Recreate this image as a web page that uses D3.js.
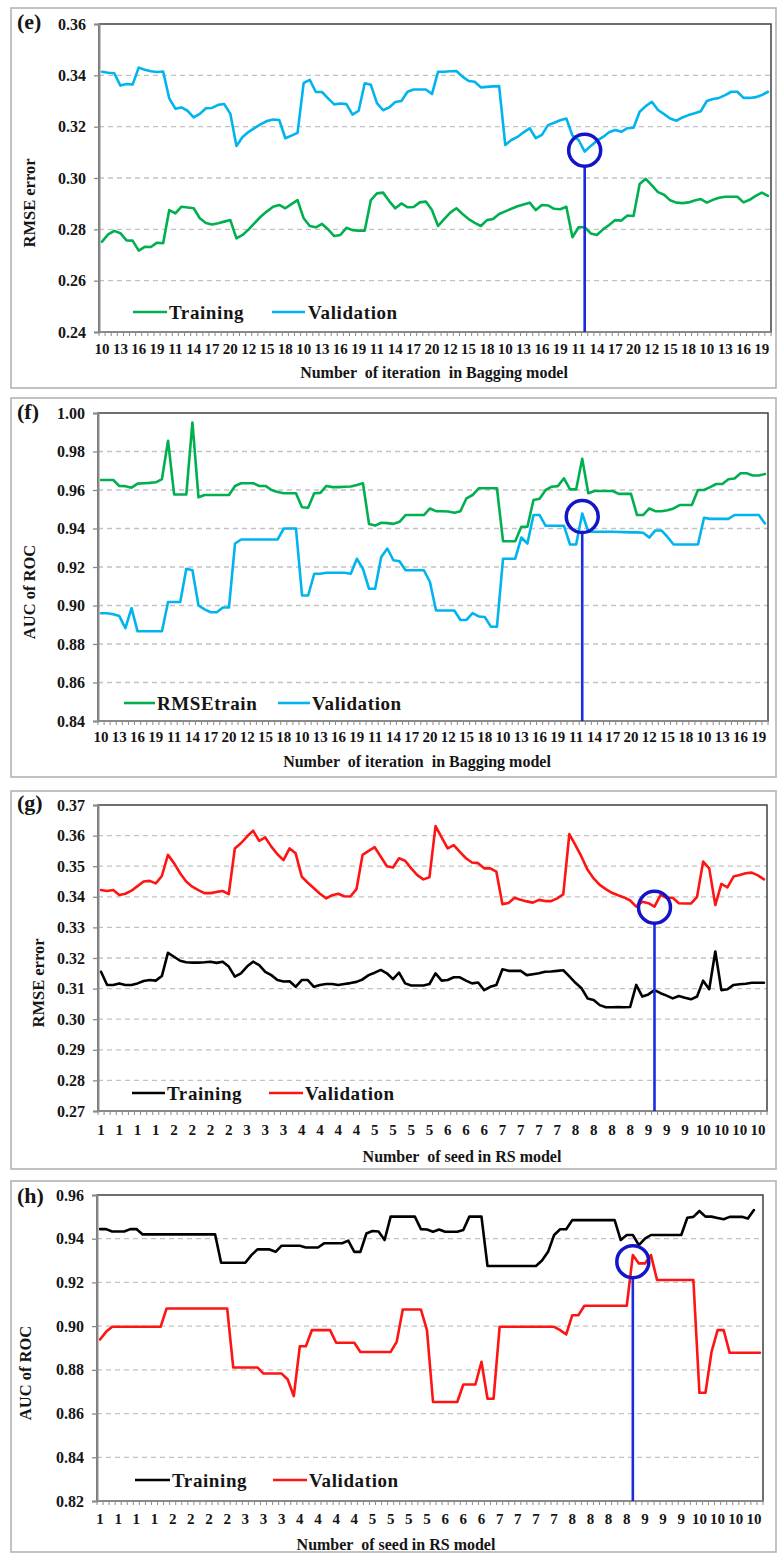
<!DOCTYPE html>
<html><head><meta charset="utf-8">
<script src="https://cdn.jsdelivr.net/npm/d3@7"></script>
<style>
html,body{margin:0;padding:0;background:#fff;}
svg{display:block;}
</style></head><body>
<svg id="chart" width="779" height="1553"></svg>
<script>
// ---------------- DATA ----------------
const nCategories = 110;
const categories = d3.range(nCategories);
const tickEvery = 3;

const bagTickLabels = ["10","13","16","19","11","14","17","20","12","15","18",
  "10","13","16","19","11","14","17","20","12","15","18",
  "10","13","16","19","11","14","17","20","12","15","18",
  "10","13","16","19"];
const rsTickLabels = ["1","1","1","1","2","2","2","2","3","3","3","4","4","4","4",
  "5","5","5","5","6","6","6","7","7","7","7","8","8","8","8","9","9","9",
  "10","10","10","10"];

const eTraining = [0.2752,0.2780,0.2794,0.2785,0.2757,0.2756,0.2717,0.2732,0.2731,0.2748,0.2746,
 0.2875,0.2862,0.2888,0.2885,0.2882,0.2843,0.2825,0.2819,0.2824,0.2830,0.2836,
 0.2765,0.2778,0.2800,0.2825,0.2850,0.2870,0.2888,0.2895,0.2882,0.2898,0.2914,
 0.2843,0.2813,0.2808,0.2821,0.2800,0.2774,0.2778,0.2806,0.2797,0.2795,0.2795,
 0.2914,0.2940,0.2943,0.2910,0.2882,0.2901,0.2886,0.2887,0.2905,0.2908,0.2875,
 0.2813,0.2840,0.2865,0.2882,0.2860,0.2840,0.2825,0.2813,0.2836,0.2840,0.2860,
 0.2870,0.2880,0.2890,0.2897,0.2904,0.2875,0.2895,0.2893,0.2880,0.2878,0.2888,
 0.2769,0.2808,0.2808,0.2784,0.2778,0.2800,0.2817,0.2836,0.2834,0.2854,0.2852,
 0.2977,0.2997,0.2971,0.2945,0.2935,0.2913,0.2904,0.2902,0.2905,0.2912,0.2918,
 0.2904,0.2915,0.2923,0.2927,0.2927,0.2927,0.2905,0.2915,0.2930,0.2943,0.2930];
const eValidation = [0.3414,0.3410,0.3408,0.3360,0.3366,0.3364,0.3430,0.3422,0.3416,0.3413,0.3415,
 0.3310,0.3270,0.3275,0.3262,0.3236,0.3250,0.3272,0.3273,0.3285,0.3288,0.3250,
 0.3125,0.3160,0.3180,0.3195,0.3210,0.3222,0.3228,0.3226,0.3155,0.3165,0.3176,
 0.3370,0.3382,0.3335,0.3335,0.3310,0.3287,0.3290,0.3288,0.3247,0.3262,0.3369,
 0.3363,0.3292,0.3264,0.3275,0.3296,0.3300,0.3336,0.3345,0.3345,0.3345,0.3327,
 0.3414,0.3414,0.3416,0.3417,0.3395,0.3378,0.3375,0.3353,0.3355,0.3357,0.3358,
 0.3129,0.3148,0.3160,0.3178,0.3194,0.3155,0.3168,0.3206,0.3215,0.3225,0.3232,
 0.3165,0.3148,0.3103,0.3125,0.3145,0.3160,0.3178,0.3187,0.3180,0.3194,0.3196,
 0.3258,0.3280,0.3297,0.3265,0.3249,0.3232,0.3223,0.3236,0.3245,0.3252,0.3260,
 0.3300,0.3308,0.3312,0.3323,0.3336,0.3336,0.3312,0.3312,0.3315,0.3323,0.3336];

const fTrain = [0.9652,0.9652,0.9652,0.9621,0.9620,0.9612,0.9633,0.9635,0.9637,0.9640,0.9657,
 0.9856,0.9577,0.9577,0.9577,0.9951,0.9562,0.9574,0.9574,0.9574,0.9574,0.9574,
 0.9621,0.9635,0.9635,0.9635,0.9621,0.9621,0.9600,0.9590,0.9583,0.9583,0.9583,
 0.9510,0.9508,0.9583,0.9585,0.9621,0.9615,0.9615,0.9617,0.9618,0.9626,0.9635,
 0.9423,0.9415,0.9430,0.9428,0.9424,0.9435,0.9470,0.9470,0.9470,0.9470,0.9504,
 0.9490,0.9490,0.9488,0.9482,0.9490,0.9557,0.9574,0.9609,0.9609,0.9609,0.9609,
 0.9334,0.9334,0.9334,0.9409,0.9409,0.9548,0.9555,0.9600,0.9617,0.9620,0.9661,
 0.9603,0.9603,0.9762,0.9583,0.9595,0.9595,0.9595,0.9595,0.9580,0.9580,0.9580,
 0.9470,0.9470,0.9504,0.9490,0.9490,0.9495,0.9504,0.9522,0.9522,0.9522,0.9600,
 0.9600,0.9615,0.9631,0.9631,0.9656,0.9660,0.9687,0.9687,0.9675,0.9675,0.9683];
const fValidation = [0.8960,0.8960,0.8955,0.8945,0.8882,0.8986,0.8866,0.8866,0.8866,0.8866,0.8866,
 0.9018,0.9018,0.9018,0.9191,0.9183,0.9000,0.8980,0.8965,0.8965,0.8990,0.8990,
 0.9322,0.9343,0.9343,0.9343,0.9343,0.9343,0.9343,0.9343,0.9400,0.9400,0.9400,
 0.9052,0.9052,0.9165,0.9165,0.9170,0.9170,0.9170,0.9170,0.9165,0.9243,0.9190,
 0.9087,0.9087,0.9252,0.9296,0.9235,0.9230,0.9183,0.9183,0.9183,0.9183,0.9122,
 0.8974,0.8974,0.8974,0.8974,0.8925,0.8925,0.8960,0.8943,0.8940,0.8890,0.8890,
 0.9243,0.9243,0.9243,0.9353,0.9322,0.9470,0.9470,0.9414,0.9414,0.9414,0.9414,
 0.9317,0.9317,0.9478,0.9383,0.9383,0.9383,0.9383,0.9383,0.9382,0.9381,0.9380,
 0.9380,0.9378,0.9353,0.9390,0.9390,0.9356,0.9317,0.9317,0.9317,0.9317,0.9317,
 0.9456,0.9450,0.9450,0.9450,0.9450,0.9470,0.9470,0.9470,0.9470,0.9470,0.9426];

const gTraining = [0.3155,0.3112,0.3112,0.3117,0.3112,0.3112,0.3117,0.3125,0.3128,0.3126,0.3141,
 0.3217,0.3204,0.3191,0.3186,0.3185,0.3185,0.3186,0.3188,0.3184,0.3188,0.3172,
 0.3139,0.3150,0.3172,0.3188,0.3177,0.3155,0.3144,0.3128,0.3123,0.3124,0.3106,
 0.3128,0.3128,0.3106,0.3112,0.3115,0.3115,0.3112,0.3115,0.3118,0.3122,0.3130,
 0.3144,0.3152,0.3161,0.3150,0.3131,0.3152,0.3117,0.3110,0.3110,0.3110,0.3115,
 0.3150,0.3126,0.3128,0.3137,0.3137,0.3126,0.3117,0.3120,0.3095,0.3106,0.3112,
 0.3163,0.3158,0.3158,0.3158,0.3144,0.3147,0.3150,0.3155,0.3156,0.3158,0.3160,
 0.3140,0.3119,0.3101,0.3068,0.3063,0.3046,0.3039,0.3039,0.3040,0.3039,0.3040,
 0.3112,0.3074,0.3081,0.3095,0.3085,0.3077,0.3068,0.3076,0.3070,0.3065,0.3074,
 0.3126,0.3098,0.3221,0.3095,0.3098,0.3112,0.3114,0.3116,0.3119,0.3119,0.3119];
const gValidation = [0.3422,0.3419,0.3422,0.3406,0.3410,0.3420,0.3435,0.3450,0.3452,0.3444,0.3468,
 0.3537,0.3510,0.3477,0.3450,0.3433,0.3422,0.3412,0.3412,0.3416,0.3419,0.3409,
 0.3558,0.3575,0.3597,0.3616,0.3583,0.3594,0.3564,0.3539,0.3520,0.3558,0.3542,
 0.3466,0.3446,0.3428,0.3410,0.3395,0.3405,0.3410,0.3402,0.3401,0.3425,0.3537,
 0.3550,0.3562,0.3531,0.3500,0.3496,0.3526,0.3518,0.3493,0.3471,0.3457,0.3464,
 0.3631,0.3594,0.3558,0.3569,0.3547,0.3526,0.3512,0.3510,0.3493,0.3493,0.3482,
 0.3376,0.3380,0.3397,0.3390,0.3385,0.3381,0.3390,0.3386,0.3386,0.3395,0.3408,
 0.3605,0.3569,0.3531,0.3488,0.3460,0.3439,0.3425,0.3413,0.3405,0.3398,0.3388,
 0.3368,0.3384,0.3379,0.3368,0.3406,0.3397,0.3397,0.3379,0.3378,0.3378,0.3400,
 0.3515,0.3493,0.3373,0.3442,0.3431,0.3466,0.3471,0.3477,0.3479,0.3470,0.3457];

const hTraining = [0.9444,0.9444,0.9433,0.9433,0.9433,0.9444,0.9444,0.9420,0.9420,0.9420,0.9420,
 0.9420,0.9420,0.9420,0.9420,0.9420,0.9420,0.9420,0.9420,0.9420,0.9290,0.9290,
 0.9290,0.9290,0.9290,0.9325,0.9351,0.9351,0.9351,0.9340,0.9368,0.9368,0.9368,
 0.9368,0.9360,0.9360,0.9360,0.9379,0.9379,0.9379,0.9379,0.9391,0.9340,0.9340,
 0.9424,0.9435,0.9433,0.9394,0.9501,0.9501,0.9501,0.9501,0.9501,0.9444,0.9442,
 0.9432,0.9442,0.9432,0.9432,0.9432,0.9440,0.9501,0.9501,0.9501,0.9275,0.9275,
 0.9275,0.9275,0.9275,0.9275,0.9275,0.9275,0.9275,0.9300,0.9340,0.9417,0.9443,
 0.9443,0.9485,0.9485,0.9485,0.9485,0.9485,0.9485,0.9485,0.9485,0.9394,0.9417,
 0.9417,0.9371,0.9400,0.9417,0.9417,0.9417,0.9417,0.9417,0.9417,0.9496,0.9500,
 0.9527,0.9501,0.9501,0.9495,0.9489,0.9500,0.9500,0.9500,0.9492,0.9531];
const hValidation = [0.8939,0.8974,0.8997,0.8997,0.8997,0.8997,0.8997,0.8997,0.8997,0.8997,0.8997,
 0.9081,0.9081,0.9081,0.9081,0.9081,0.9081,0.9081,0.9081,0.9081,0.9081,0.9081,
 0.8811,0.8811,0.8811,0.8811,0.8811,0.8783,0.8783,0.8783,0.8783,0.8756,0.8680,
 0.8908,0.8908,0.8982,0.8982,0.8982,0.8982,0.8924,0.8924,0.8924,0.8924,0.8882,
 0.8882,0.8882,0.8882,0.8882,0.8882,0.8928,0.9076,0.9076,0.9076,0.9076,0.8982,
 0.8653,0.8653,0.8653,0.8653,0.8653,0.8733,0.8733,0.8733,0.8837,0.8668,0.8668,
 0.8997,0.8997,0.8997,0.8997,0.8997,0.8997,0.8997,0.8997,0.8997,0.8997,0.8982,
 0.8962,0.9050,0.9050,0.9093,0.9093,0.9093,0.9093,0.9093,0.9093,0.9093,0.9093,
 0.9325,0.9287,0.9287,0.9325,0.9211,0.9211,0.9211,0.9211,0.9211,0.9211,0.9211,
 0.8695,0.8695,0.8882,0.8982,0.8982,0.8878,0.8878,0.8878,0.8878,0.8878,0.8878];

// optimum markers: [category index, value]
const eMarker = [79, 0.3108];
const fMarker = [79, 0.9462];
const gMarker = [91, 0.3366];
const hMarker = [88, 0.9295];

// ---------------- STYLE / LAYOUT ----------------
const FONT = "'Liberation Serif', 'Times New Roman', Times, serif";
const GREEN = "#00b050", CYAN = "#00b4ef", RED = "#ff1414", BLACK = "#000000";

const panels = [
  { tag:"(e)", yTitle:"RMSE error", yDomain:[0.24,0.36], yStep:0.02,
    xTitle:"Number  of iteration  in Bagging model", tickLabels:bagTickLabels,
    series:[{name:"Training", values:eTraining, color:GREEN},{name:"Validation", values:eValidation, color:CYAN}],
    marker:eMarker,
    L:{frame:[11,8,776,388], left:99, right:771, top:24, bottom:332, xLabY:354, titleX:434, titleY:378,
       yTitleX:29, tagY:29, legY:312, leg:[[133,167,169],[272,305,308]]} },
  { tag:"(f)", yTitle:"AUC of ROC", yDomain:[0.84,1.00], yStep:0.02,
    xTitle:"Number  of iteration  in Bagging model", tickLabels:bagTickLabels,
    series:[{name:"RMSEtrain", values:fTrain, color:GREEN},{name:"Validation", values:fValidation, color:CYAN}],
    marker:fMarker,
    L:{frame:[11,398,776,777], left:98, right:768, top:413, bottom:721, xLabY:742, titleX:417, titleY:767,
       yTitleX:29, tagY:419, legY:703, leg:[[124,155,157],[278,310,312]]} },
  { tag:"(g)", yTitle:"RMSE error", yDomain:[0.27,0.37], yStep:0.01,
    xTitle:"Number  of seed in RS model", tickLabels:rsTickLabels,
    series:[{name:"Training", values:gTraining, color:BLACK},{name:"Validation", values:gValidation, color:RED}],
    marker:gMarker,
    L:{frame:[11,791,776,1169], left:98, right:767, top:805, bottom:1111, xLabY:1135, titleX:462, titleY:1162,
       yTitleX:38, tagY:810, legY:1093, leg:[[132,165,167],[269,303,305]]} },
  { tag:"(h)", yTitle:"AUC of ROC", yDomain:[0.82,0.96], yStep:0.02,
    xTitle:"Number  of seed in RS model", tickLabels:rsTickLabels,
    series:[{name:"Training", values:hTraining, color:BLACK},{name:"Validation", values:hValidation, color:RED}],
    marker:hMarker,
    L:{frame:[11,1181,776,1552], left:97, right:763, top:1195, bottom:1501, xLabY:1524, titleX:396, titleY:1550,
       yTitleX:25, tagY:1203, legY:1480, leg:[[135,170,172],[273,307,309]]} }
];

// ---------------- DRAW ----------------
const svg = d3.select("#chart").attr("font-family", FONT).style("font-family", FONT);
svg.append("rect").attr("width",779).attr("height",1553).attr("fill","#fff");
const fmt2 = d3.format(".2f");
const txt = sel => sel.style("font-family", FONT).style("font-weight","bold").attr("fill","#151515");

panels.forEach(p => {
  const L = p.L;
  const g = svg.append("g");
  g.append("rect")
    .attr("x", L.frame[0]).attr("y", L.frame[1])
    .attr("width", L.frame[2]-L.frame[0]).attr("height", L.frame[3]-L.frame[1])
    .attr("fill","#fff").attr("stroke","#b3b3b3").attr("stroke-width",1.6);

  const x = d3.scaleBand().domain(categories).range([L.left, L.right]).padding(0);
  const bw = x.bandwidth();
  const cx = i => x(i) + bw/2;
  const bx = i => i < nCategories ? x(i) : L.right;
  const y = d3.scaleLinear().domain(p.yDomain).range([L.bottom, L.top]);
  const nT = Math.round((p.yDomain[1]-p.yDomain[0])/p.yStep);
  const yTicks = d3.range(nT+1).map(k => +(p.yDomain[0] + k*p.yStep).toFixed(4));

  // gridlines
  g.append("g").selectAll("line").data(yTicks.slice(1,-1)).join("line")
    .attr("x1", L.left).attr("x2", L.right)
    .attr("y1", d => y(d)).attr("y2", d => y(d))
    .attr("stroke","#c2c2c2").attr("stroke-width",1.3).attr("stroke-dasharray","5,4");

  // series
  const line = d3.line().x((d,i) => cx(i)).y(d => y(d));
  p.series.forEach(s => {
    g.append("path").datum(s.values).attr("d", line)
      .attr("fill","none").attr("stroke", s.color).attr("stroke-width",2.6)
      .attr("stroke-linejoin","round").attr("stroke-linecap","round");
  });

  // plot frame
  g.append("rect").attr("x", L.left).attr("y", L.top)
    .attr("width", L.right-L.left).attr("height", L.bottom-L.top)
    .attr("fill","none").attr("stroke","#333").attr("stroke-width",1.4);

  // y axis
  const ya = g.append("g").attr("transform", `translate(${L.left},0)`)
    .call(d3.axisLeft(y).tickValues(yTicks).tickFormat(fmt2).tickSize(5).tickPadding(8));
  ya.attr("font-family", FONT).attr("font-size", 16);
  ya.select(".domain").attr("stroke","#8a8a8a").attr("stroke-width",2);
  ya.selectAll(".tick line").attr("stroke","#8a8a8a").attr("stroke-width",1.3);
  ya.selectAll(".tick text").attr("font-size",16).call(txt);

  // x axis line + category ticks
  g.append("line").attr("x1", L.left).attr("x2", L.right).attr("y1", L.bottom).attr("y2", L.bottom)
    .attr("stroke","#8a8a8a").attr("stroke-width",2);
  g.append("g").selectAll("line").data(d3.range(nCategories+1)).join("line")
    .attr("x1", i => bx(i)).attr("x2", i => bx(i))
    .attr("y1", L.bottom).attr("y2", L.bottom+4)
    .attr("stroke","#8a8a8a").attr("stroke-width",1);
  g.append("g").selectAll("text").data(p.tickLabels).join("text")
    .attr("x", (d,k) => cx(k*tickEvery)).attr("y", L.xLabY)
    .attr("text-anchor","middle").attr("font-size",15).text(d => d).call(txt);

  // marker (optimum)
  const mx = cx(p.marker[0]), my = y(p.marker[1]), r = 16;
  g.append("line").attr("x1", mx).attr("x2", mx).attr("y1", my + r).attr("y2", L.bottom)
    .attr("stroke","#1a2be0").attr("stroke-width",2.6);
  g.append("circle").attr("cx", mx).attr("cy", my).attr("r", r)
    .attr("fill","none").attr("stroke","#1414c8").attr("stroke-width",3.5);

  // legend
  p.series.forEach((s, k) => {
    const [x1, x2, tx] = L.leg[k];
    g.append("line").attr("x1", x1).attr("x2", x2).attr("y1", L.legY).attr("y2", L.legY)
      .attr("stroke", s.color).attr("stroke-width",2.6);
    g.append("text").attr("x", tx).attr("y", L.legY).attr("dy","0.35em")
      .attr("font-size",19).attr("letter-spacing","0.6px").text(s.name).call(txt);
  });

  // titles
  g.append("text").attr("x", L.titleX).attr("y", L.titleY).attr("text-anchor","middle")
    .attr("font-size",16).style("white-space","pre").text(p.xTitle).call(txt);
  g.append("text").attr("transform", `translate(${L.yTitleX},${(L.top+L.bottom)/2 + 25}) rotate(-90)`)
    .attr("text-anchor","middle").attr("dy","0.35em").attr("font-size",16.5).text(p.yTitle).call(txt);
  g.append("text").attr("x", 17).attr("y", L.tagY).attr("font-size",22).text(p.tag).call(txt);
});
</script>
</body></html>
